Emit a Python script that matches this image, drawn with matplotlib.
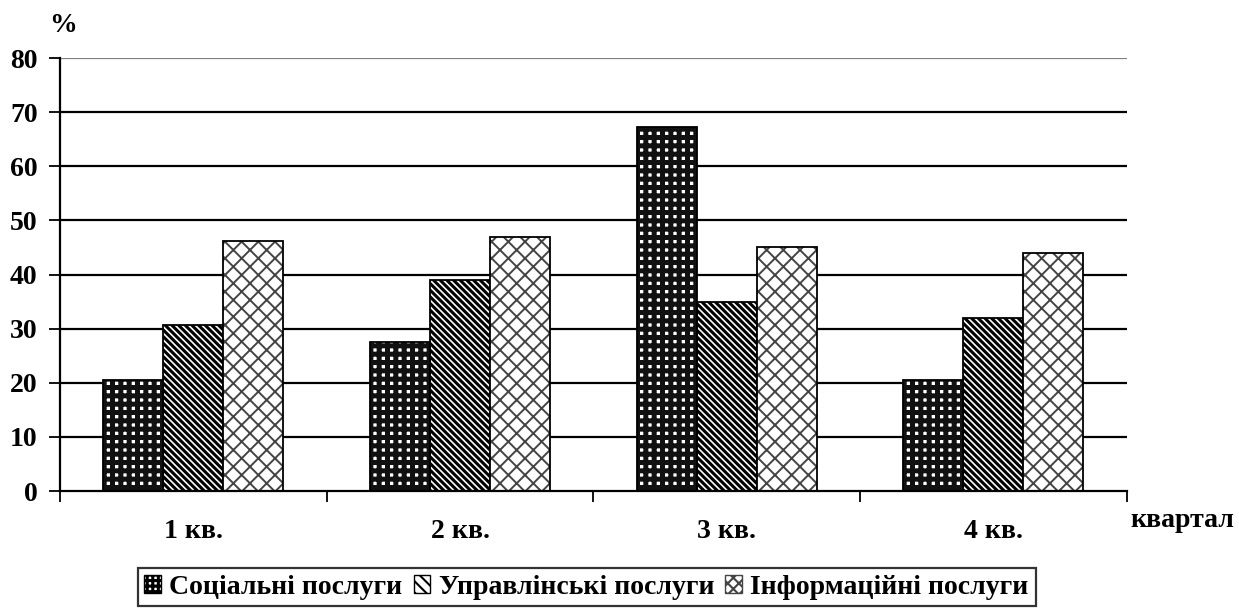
import numpy as np
import matplotlib.pyplot as plt
from matplotlib.patches import Patch

plt.rcParams['font.family'] = ['Liberation Serif', 'DejaVu Serif']
plt.rcParams['font.weight'] = 'bold'

quarters = ['1 кв.', '2 кв.', '3 кв.', '4 кв.']
series = ['Соціальні послуги', 'Управлінські послуги', 'Інформаційні послуги']
social = [20.5, 27.5, 67.2, 20.5]
manage = [30.7, 38.9, 34.9, 31.9]
inform = [46.2, 46.9, 45.1, 44.0]
yticks = [0, 10, 20, 30, 40, 50, 60, 70, 80]


def hatch_lw(artists, lw):
    for a in artists:
        if hasattr(a, 'set_hatch_linewidth'):
            a.set_hatch_linewidth(lw)


fig = plt.figure(figsize=(12.39, 6.16), dpi=100)
ax = fig.add_axes([0.0484, 0.2029, 0.861, 0.7029])

x = np.arange(len(quarters))
w = 0.225

# grid lines
for v in yticks[1:]:
    ax.axhline(v, color='#808080' if v == 80 else 'black', lw=1.6, zorder=0)

# social: dark with light dots
plt.rcParams['hatch.linewidth'] = 3.6
b1 = ax.bar(x - w, social, w, color='white', edgecolor='#111111', hatch='++', lw=0, zorder=2)
hatch_lw(b1, 3.6)
ax.bar(x - w, social, w, fill=False, edgecolor='black', lw=1.3, zorder=3)
# management: dense diagonal
plt.rcParams['hatch.linewidth'] = 2.2
b2 = ax.bar(x, manage, w, color='white', edgecolor='black', hatch='\\' * 5, lw=1.3, zorder=2)
hatch_lw(b2, 2.2)
# information: cross hatch gray
plt.rcParams['hatch.linewidth'] = 1.4
b3 = ax.bar(x + w, inform, w, color='white', edgecolor='#444444', hatch='xx', lw=0, zorder=2)
hatch_lw(b3, 1.4)
ax.bar(x + w, inform, w, fill=False, edgecolor='black', lw=1.3, zorder=3)

ax.set_xlim(-0.5, 3.5)
ax.set_ylim(0, 80)
ax.set_yticks(yticks)
ax.set_yticklabels([str(v) for v in yticks], fontsize=20, fontweight='bold')
ax.set_xticks(np.arange(-0.5, 4.0, 1.0))
ax.set_xticklabels([])
ax.set_xticks(x, minor=True)
ax.set_xticklabels(quarters, minor=True, fontsize=20, fontweight='bold')
ax.tick_params(axis='x', which='major', length=8, width=1.3, direction='out')
ax.tick_params(axis='x', which='minor', length=0, pad=20)
ax.tick_params(axis='y', length=8, width=1.3, direction='out', pad=8)

ax.spines['top'].set_visible(False)
ax.spines['right'].set_visible(False)
ax.spines['left'].set_linewidth(1.6)
ax.spines['bottom'].set_linewidth(1.6)

fig.text(0.0505, 0.958, '%', fontsize=20, fontweight='bold', ha='center', va='center')
fig.text(0.912, 0.155, 'квартал', fontsize=20, fontweight='bold', ha='left', va='center')

plt.rcParams['hatch.linewidth'] = 1.5
h1 = Patch(facecolor='white', edgecolor='#111111', hatch='+++', lw=1)
h2 = Patch(facecolor='white', edgecolor='black', hatch='\\\\\\', lw=1)
h3 = Patch(facecolor='white', edgecolor='#444444', hatch='xxx', lw=1)
leg = fig.legend([h1, h2, h3], series, loc='center left', bbox_to_anchor=(0.111, 0.047),
                 ncol=3, frameon=True, fancybox=False, edgecolor='black',
                 prop={'size': 20, 'weight': 'bold'}, handlelength=0.6, handleheight=0.6,
                 handletextpad=0.3, columnspacing=0.4, borderpad=0.25, borderaxespad=0)
leg.get_frame().set_linewidth(1.6)
lp = leg.get_patches()
hatch_lw(lp[:1], 2.2)
hatch_lw(lp[1:], 1.5)
for p in lp:
    p.set_edgecolor('black')
lp[2].set_edgecolor('#444444')

fig.savefig('out.png', dpi=100)
